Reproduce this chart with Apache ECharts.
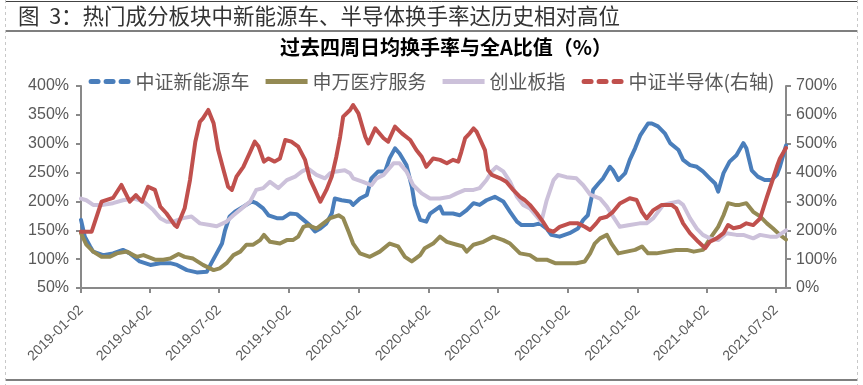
<!DOCTYPE html>
<html><head><meta charset="utf-8">
<script src="https://cdn.jsdelivr.net/npm/echarts@6.0.0/dist/echarts.min.js"></script>
<style>html,body{margin:0;padding:0;background:#fff;}#c{width:863px;height:385px;}</style>
</head><body><div id="c"></div>
<script>
// ---- data ----
const figureTitle = '图  3：热门成分板块中新能源车、半导体换手率达历史相对高位';
const chartTitle = '过去四周日均换手率与全A比值（%）';
const seriesNames = ['中证新能源车', '申万医疗服务', '创业板指', '中证半导体(右轴)'];
const axisStart = '2019-01-02';
const axisEnd = '2021-07-15';
const tickLabels = ['2019-01-02','2019-04-02','2019-07-02','2019-10-02','2020-01-02','2020-04-02','2020-07-02','2020-10-02','2021-01-02','2021-04-02','2021-07-02'];
const leftTicks = {min: 50, max: 400, step: 50};
const rightTicks = {min: 0, max: 700, step: 100};

const nevDates = ['2019-01-02','2019-01-07','2019-01-14','2019-01-18','2019-01-31','2019-02-13','2019-02-26','2019-03-07','2019-03-20','2019-04-03','2019-04-16','2019-04-29','2019-05-08','2019-05-21','2019-06-03','2019-06-16','2019-06-22','2019-06-29','2019-07-06','2019-07-10','2019-07-16','2019-07-23','2019-08-03','2019-08-14','2019-08-20','2019-08-29','2019-09-05','2019-09-16','2019-09-24','2019-10-03','2019-10-12','2019-10-21','2019-10-29','2019-11-05','2019-11-12','2019-11-20','2019-11-27','2019-12-01','2019-12-10','2019-12-21','2019-12-25','2020-01-03','2020-01-12','2020-01-18','2020-01-27','2020-02-05','2020-02-11','2020-02-18','2020-02-24','2020-03-04','2020-03-11','2020-03-15','2020-03-22','2020-03-30','2020-04-04','2020-04-17','2020-04-21','2020-05-04','2020-05-13','2020-05-22','2020-05-31','2020-06-08','2020-06-17','2020-06-28','2020-07-09','2020-07-18','2020-07-27','2020-08-02','2020-08-17','2020-08-26','2020-09-04','2020-09-10','2020-09-21','2020-10-04','2020-10-15','2020-10-22','2020-10-28','2020-11-04','2020-11-11','2020-11-17','2020-11-26','2020-11-30','2020-12-07','2020-12-16','2020-12-22','2020-12-29','2021-01-05','2021-01-15','2021-01-20','2021-01-28','2021-02-06','2021-02-13','2021-02-24','2021-03-02','2021-03-11','2021-03-20','2021-03-28','2021-04-06','2021-04-13','2021-04-17','2021-04-24','2021-05-02','2021-05-11','2021-05-20','2021-05-24','2021-05-31','2021-06-08','2021-06-17','2021-06-26','2021-07-03','2021-07-07','2021-07-15'];
const nevValues = [168,139,122,113,107,110,116,110,96,90,93,93,90,81,77,78,93,110,127,150,174,182,191,200,197,188,176,171,171,179,178,168,159,148,153,162,179,205,202,200,194,205,211,240,252,252,275,292,283,263,226,194,168,165,179,191,179,179,176,185,197,194,202,208,200,182,165,159,159,162,153,142,139,145,153,168,176,220,231,240,260,254,237,249,272,292,315,335,335,330,318,301,289,272,263,260,252,240,231,217,249,269,280,301,292,254,243,237,237,246,260,297];

const medDates = ['2019-01-02','2019-01-09','2019-01-18','2019-01-29','2019-02-09','2019-02-18','2019-03-03','2019-03-16','2019-03-25','2019-04-09','2019-04-20','2019-04-29','2019-05-10','2019-05-18','2019-05-29','2019-06-11','2019-06-25','2019-07-03','2019-07-12','2019-07-21','2019-07-30','2019-08-07','2019-08-16','2019-08-25','2019-08-30','2019-09-07','2019-09-20','2019-09-29','2019-10-07','2019-10-14','2019-10-21','2019-10-27','2019-11-07','2019-11-16','2019-11-25','2019-12-06','2019-12-12','2019-12-19','2019-12-25','2020-01-03','2020-01-16','2020-01-29','2020-02-11','2020-02-22','2020-03-02','2020-03-11','2020-03-22','2020-03-28','2020-04-08','2020-04-17','2020-04-26','2020-05-09','2020-05-17','2020-05-22','2020-05-31','2020-06-13','2020-06-26','2020-07-09','2020-07-18','2020-07-31','2020-08-13','2020-08-22','2020-09-04','2020-09-15','2020-09-30','2020-10-13','2020-10-24','2020-10-31','2020-11-06','2020-11-13','2020-11-22','2020-11-28','2020-12-07','2020-12-18','2020-12-29','2021-01-07','2021-01-15','2021-01-26','2021-02-08','2021-02-21','2021-03-07','2021-03-16','2021-03-28','2021-04-08','2021-04-17','2021-04-24','2021-04-30','2021-05-09','2021-05-15','2021-05-24','2021-06-02','2021-06-11','2021-06-20','2021-06-28','2021-07-07','2021-07-15'];
const medValues = [145,125,113,104,104,110,113,104,107,99,99,101,109,104,101,90,81,84,93,107,113,125,125,133,142,130,127,133,133,139,156,159,153,162,171,176,171,148,127,110,104,113,127,122,104,96,107,119,127,139,130,125,122,113,125,130,139,133,127,110,107,99,99,93,93,93,96,110,127,136,142,127,110,113,116,122,110,110,113,116,116,113,116,139,156,176,197,194,194,197,182,174,162,153,142,134];

const cybDates = ['2019-01-02','2019-01-09','2019-01-18','2019-01-31','2019-02-13','2019-02-26','2019-03-12','2019-03-25','2019-04-07','2019-04-16','2019-04-24','2019-05-03','2019-05-16','2019-05-27','2019-06-07','2019-06-20','2019-06-29','2019-07-12','2019-07-21','2019-08-01','2019-08-12','2019-08-20','2019-08-29','2019-09-07','2019-09-18','2019-09-29','2019-10-10','2019-10-19','2019-10-27','2019-11-07','2019-11-18','2019-11-25','2019-12-03','2019-12-14','2019-12-21','2019-12-25','2020-01-07','2020-01-18','2020-01-25','2020-02-03','2020-02-16','2020-02-24','2020-03-04','2020-03-13','2020-03-24','2020-04-04','2020-04-17','2020-04-30','2020-05-09','2020-05-20','2020-05-31','2020-06-08','2020-06-17','2020-06-24','2020-06-30','2020-07-09','2020-07-18','2020-07-27','2020-08-04','2020-08-13','2020-08-22','2020-08-28','2020-09-04','2020-09-13','2020-09-19','2020-09-30','2020-10-13','2020-10-22','2020-10-31','2020-11-13','2020-11-22','2020-11-30','2020-12-09','2020-12-22','2021-01-04','2021-01-13','2021-01-22','2021-02-04','2021-02-13','2021-02-24','2021-03-02','2021-03-11','2021-03-20','2021-03-28','2021-04-06','2021-04-17','2021-04-28','2021-05-11','2021-05-20','2021-06-02','2021-06-11','2021-06-24','2021-07-03','2021-07-15'];
const cybValues = [205,202,194,194,197,202,205,200,185,171,165,165,171,174,162,159,157,165,176,188,200,220,223,234,223,237,243,252,257,246,240,249,252,254,249,240,234,228,240,246,266,266,252,228,214,205,205,208,214,220,220,223,237,252,260,252,234,208,194,188,174,165,202,237,246,242,240,228,212,205,191,174,156,159,162,162,171,194,197,200,194,171,153,142,136,133,145,142,142,136,142,139,139,150];

const semiDates = ['2019-01-02','2019-01-16','2019-01-29','2019-02-13','2019-02-24','2019-03-07','2019-03-15','2019-03-23','2019-03-31','2019-04-09','2019-04-16','2019-04-24','2019-05-05','2019-05-08','2019-05-18','2019-05-25','2019-06-01','2019-06-07','2019-06-11','2019-06-18','2019-06-25','2019-07-01','2019-07-08','2019-07-14','2019-07-19','2019-07-25','2019-08-03','2019-08-12','2019-08-18','2019-08-23','2019-08-30','2019-09-05','2019-09-13','2019-09-20','2019-09-27','2019-10-05','2019-10-14','2019-10-23','2019-10-29','2019-11-05','2019-11-12','2019-11-20','2019-11-27','2019-12-03','2019-12-08','2019-12-12','2019-12-21','2019-12-25','2020-01-01','2020-01-10','2020-01-14','2020-01-23','2020-02-03','2020-02-09','2020-02-18','2020-02-27','2020-03-09','2020-03-17','2020-03-24','2020-03-30','2020-04-08','2020-04-17','2020-04-26','2020-05-04','2020-05-11','2020-05-15','2020-05-20','2020-05-26','2020-05-31','2020-06-04','2020-06-08','2020-06-15','2020-06-19','2020-06-24','2020-07-05','2020-07-13','2020-07-22','2020-07-31','2020-08-06','2020-08-13','2020-08-22','2020-08-30','2020-09-06','2020-09-13','2020-09-21','2020-10-04','2020-10-15','2020-10-24','2020-10-31','2020-11-08','2020-11-13','2020-11-22','2020-11-30','2020-12-09','2020-12-22','2020-12-31','2021-01-07','2021-01-13','2021-01-22','2021-02-02','2021-02-15','2021-02-21','2021-03-02','2021-03-11','2021-03-22','2021-03-31','2021-04-06','2021-04-15','2021-04-24','2021-04-30','2021-05-07','2021-05-16','2021-05-24','2021-06-02','2021-06-11','2021-06-20','2021-06-26','2021-07-03','2021-07-07','2021-07-15'];
const semiValues = [195,195,299,312,357,299,322,299,351,340,282,259,218,212,276,374,507,576,588,617,571,478,409,351,340,386,420,472,507,490,438,449,438,449,513,507,490,444,380,340,299,340,386,455,524,594,617,634,605,524,501,553,519,507,559,536,513,478,455,420,449,444,432,444,438,472,519,536,553,542,519,478,409,392,380,368,340,316,305,288,259,230,201,195,212,224,224,212,201,224,241,247,264,293,311,305,264,241,270,288,288,276,224,190,160,138,160,172,190,218,207,212,224,218,241,316,363,420,449,485];

// ---- chart ----
function dayList(a, b) {
  const out = [];
  const p = s => { const [y, m, d] = s.split('-').map(Number); return Date.UTC(y, m - 1, d); };
  for (let t = p(a); t <= p(b); t += 86400000) out.push(new Date(t).toISOString().slice(0, 10));
  return out;
}
const categories = dayList(axisStart, axisEnd);
const pairs = (d, v) => d.map((x, i) => [x, v[i]]);
const isTick = (idx, val) => tickLabels.indexOf(val) >= 0;

const numFont = "'Liberation Sans', Arial, sans-serif";
const cjkFont = "'Noto Sans CJK SC', 'Noto Sans', sans-serif";
const axisGrey = '#898989';
const labelGrey = '#595959';
const colors = ['#4A7EBB', '#948A54', '#CCC1DA', '#C0504D'];
const dashIcon = 'path://M2.5,0h7a2.5,2.5 0 0 1 0,5h-7a2.5,2.5 0 0 1 0,-5z M17.5,0h7a2.5,2.5 0 0 1 0,5h-7a2.5,2.5 0 0 1 0,-5z M32.5,0h7a2.5,2.5 0 0 1 0,5h-7a2.5,2.5 0 0 1 0,-5z';
const solidIcon = 'path://M0,0h42v5h-42z';

const chart = echarts.init(document.getElementById('c'), null, {renderer: 'canvas'});
chart.setOption({
  animation: false,
  title: [
    {text: figureTitle, left: 18, top: 5, padding: 0,
     textStyle: {fontFamily: cjkFont, fontSize: 21.5, fontWeight: 'normal', color: '#333'}},
    {text: chartTitle, left: 280, top: 37, padding: 0,
     textStyle: {fontFamily: cjkFont, fontSize: 20, fontWeight: 'bold', color: '#000'}}
  ],
  graphic: [
    {type: 'line', silent: true, shape: {x1: 5, y1: 1.5, x2: 858, y2: 1.5}, style: {stroke: '#444', lineWidth: 1}},
    {type: 'line', silent: true, shape: {x1: 5, y1: 31, x2: 858, y2: 31}, style: {stroke: '#000', lineWidth: 1.2}},
    {type: 'line', silent: true, shape: {x1: 5, y1: 380, x2: 858, y2: 380}, style: {stroke: '#000', lineWidth: 1.2}},
    {type: 'line', silent: true, shape: {x1: 5.5, y1: 0, x2: 5.5, y2: 385}, style: {stroke: '#c8c8c8', lineWidth: 1, lineDash: [3, 3]}},
    {type: 'line', silent: true, shape: {x1: 857.5, y1: 0, x2: 857.5, y2: 385}, style: {stroke: '#c8c8c8', lineWidth: 1, lineDash: [3, 3]}}
  ],
  legend: {
    top: 67, left: 'center', itemWidth: 42, itemHeight: 5, itemGap: 16,
    textStyle: {fontFamily: cjkFont, fontSize: 19, color: labelGrey},
    data: [
      {name: seriesNames[0], icon: dashIcon},
      {name: seriesNames[1], icon: solidIcon},
      {name: seriesNames[2], icon: solidIcon},
      {name: seriesNames[3], icon: dashIcon}
    ]
  },
  grid: {left: 81, right: 77, top: 86, bottom: 97, containLabel: false},
  xAxis: {
    type: 'category', data: categories, boundaryGap: false,
    axisLine: {show: true, lineStyle: {color: axisGrey, width: 2}},
    axisTick: {show: true, interval: isTick, length: 5, lineStyle: {color: axisGrey, width: 2}},
    axisLabel: {interval: isTick, rotate: 45, margin: 20, fontFamily: numFont, fontSize: 14, color: labelGrey},
    splitLine: {show: false}
  },
  yAxis: [
    {type: 'value', position: 'left', min: leftTicks.min, max: leftTicks.max, interval: leftTicks.step,
     axisLine: {show: true, lineStyle: {color: axisGrey, width: 2}},
     axisTick: {show: true, length: 5, lineStyle: {color: axisGrey, width: 2}},
     axisLabel: {formatter: '{value}%', margin: 12, fontFamily: numFont, fontSize: 16, color: labelGrey},
     splitLine: {show: false}},
    {type: 'value', position: 'right', min: rightTicks.min, max: rightTicks.max, interval: rightTicks.step,
     axisLine: {show: true, lineStyle: {color: axisGrey, width: 2}},
     axisTick: {show: true, length: 5, lineStyle: {color: axisGrey, width: 2}},
     axisLabel: {formatter: '{value}%', margin: 10, fontFamily: numFont, fontSize: 16, color: labelGrey},
     splitLine: {show: false}}
  ],
  series: [
    {name: seriesNames[0], type: 'line', yAxisIndex: 0, data: pairs(nevDates, nevValues)},
    {name: seriesNames[1], type: 'line', yAxisIndex: 0, data: pairs(medDates, medValues)},
    {name: seriesNames[2], type: 'line', yAxisIndex: 0, data: pairs(cybDates, cybValues)},
    {name: seriesNames[3], type: 'line', yAxisIndex: 1, data: pairs(semiDates, semiValues)}
  ].map((s, i) => Object.assign(s, {
    symbol: 'none', smooth: false, color: colors[i],
    lineStyle: {width: 4, color: colors[i], join: 'round', cap: 'round'}
  }))
});
</script></body></html>
